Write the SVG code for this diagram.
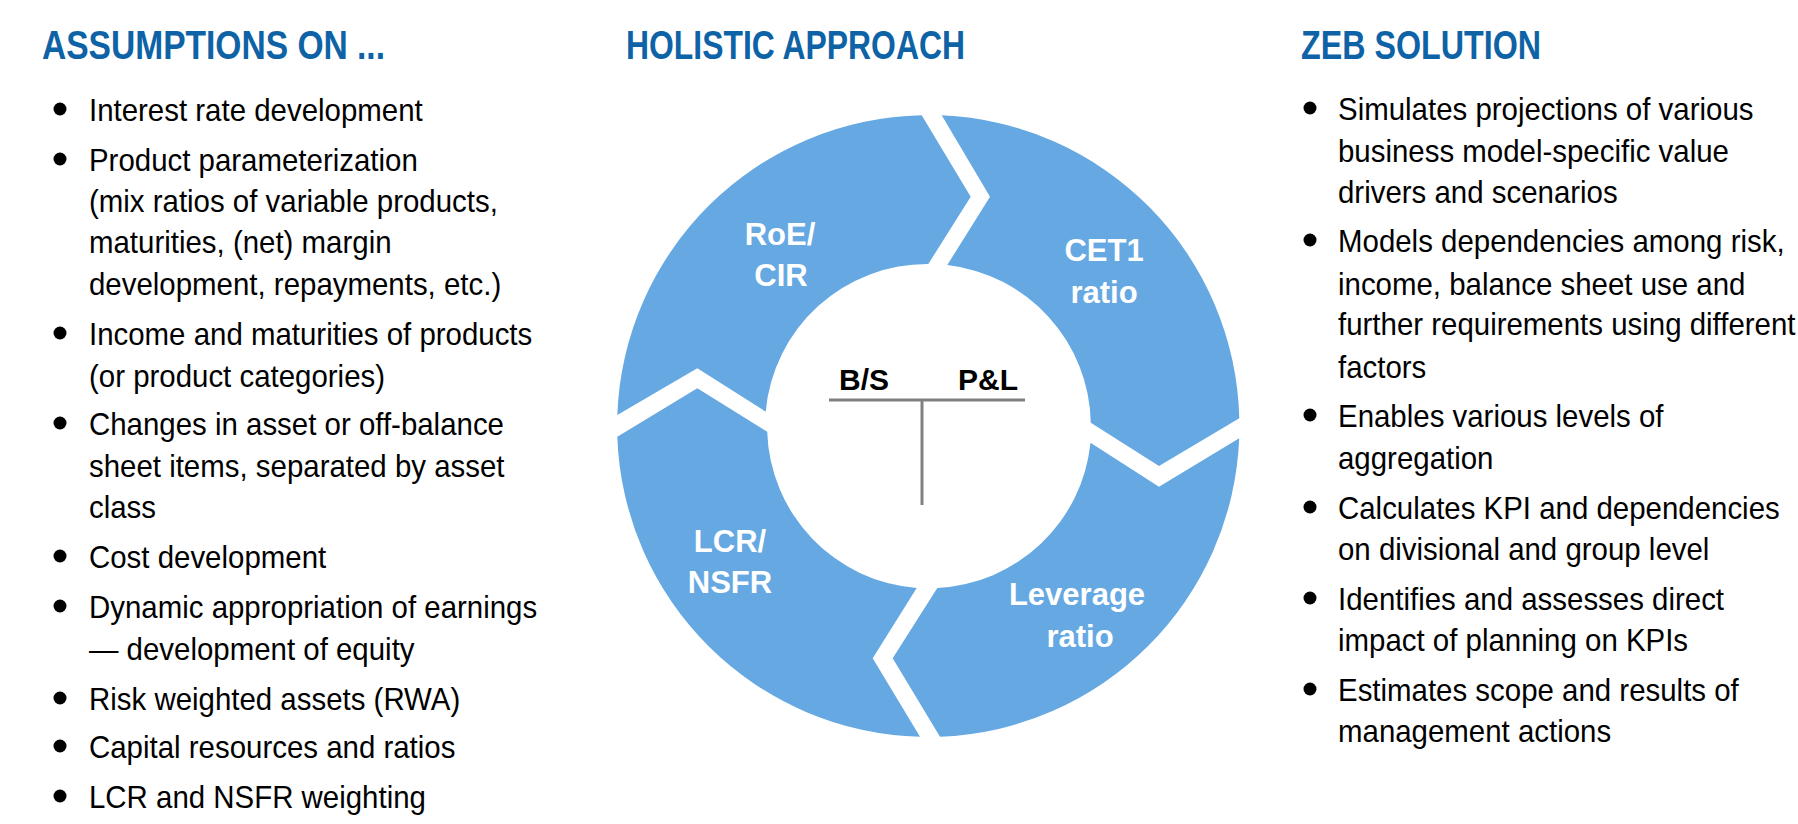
<svg xmlns="http://www.w3.org/2000/svg" width="1798" height="824" viewBox="0 0 1798 824">
  <style>
    .title { font-family: "Liberation Sans", Arial, sans-serif; font-size: 41px; font-weight: bold; fill: #0e62a6; }
    .body { font-family: "Liberation Sans", Arial, sans-serif; font-size: 32px; fill: #000000; }
    .seg { fill: #66a8e2; }
    .lbl { font-family: "Liberation Sans", Arial, sans-serif; font-size: 31px; font-weight: bold; fill: #ffffff; text-anchor: middle; }
    .tc { font-family: "Liberation Sans", Arial, sans-serif; font-size: 30px; font-weight: bold; fill: #000000; }
    .tline { stroke: #808080; stroke-width: 3; fill: none; }
    .dot { fill: #000000; }
  </style>
  <rect width="1798" height="824" fill="#ffffff"/>

  <!-- Titles -->
  <g id="title-assumptions">
    <text class="title" x="42" y="59" textLength="343" lengthAdjust="spacingAndGlyphs">ASSUMPTIONS ON ...</text>
  </g>
  <g id="title-holistic">
    <text class="title" x="626" y="59" textLength="339" lengthAdjust="spacingAndGlyphs">HOLISTIC APPROACH</text>
  </g>
  <g id="title-zeb">
    <text class="title" x="1301" y="59" textLength="240" lengthAdjust="spacingAndGlyphs">ZEB SOLUTION</text>
  </g>

  <!-- Left column -->
  <g id="assumptions-list">
    <g class="dots">
      <circle class="dot" cx="60" cy="109" r="6.5"/>
      <circle class="dot" cx="60" cy="159" r="6.5"/>
      <circle class="dot" cx="60" cy="333" r="6.5"/>
      <circle class="dot" cx="60" cy="423" r="6.5"/>
      <circle class="dot" cx="60" cy="556" r="6.5"/>
      <circle class="dot" cx="60" cy="606" r="6.5"/>
      <circle class="dot" cx="60" cy="698" r="6.5"/>
      <circle class="dot" cx="60" cy="746" r="6.5"/>
      <circle class="dot" cx="60" cy="796" r="6.5"/>
    </g>
    <g transform="matrix(0.92 0 0 1 7.12 0)">
      <text class="body" x="89" y="121">Interest rate development</text>
      <text class="body" x="89" y="171">Product parameterization</text>
      <text class="body" x="89" y="212">(mix ratios of variable products,</text>
      <text class="body" x="89" y="253">maturities, (net) margin</text>
      <text class="body" x="89" y="295">development, repayments, etc.)</text>
      <text class="body" x="89" y="345">Income and maturities of products</text>
      <text class="body" x="89" y="387">(or product categories)</text>
      <text class="body" x="89" y="435">Changes in asset or off-balance</text>
      <text class="body" x="89" y="477">sheet items, separated by asset</text>
      <text class="body" x="89" y="518">class</text>
      <text class="body" x="89" y="568">Cost development</text>
      <text class="body" x="89" y="618">Dynamic appropriation of earnings</text>
      <text class="body" x="89" y="660">— development of equity</text>
      <text class="body" x="89" y="710">Risk weighted assets (RWA)</text>
      <text class="body" x="89" y="758">Capital resources and ratios</text>
      <text class="body" x="89" y="808">LCR and NSFR weighting</text>
    </g>
  </g>

  <!-- Ring segments -->
  <g id="seg-roe-cir">
    <path class="seg" d="M617.3,415 A311,311 0 0,1 921.7,115.3 L970.7,196.7 L928.3,264 A162,162 0 0,0 765.7,411.7 L697.3,368.3 Z"/>
    <text class="lbl" x="780" y="245">RoE/</text>
    <text class="lbl" x="781" y="286">CIR</text>
  </g>
  <g id="seg-cet1">
    <path class="seg" d="M941.7,115.3 A311,311 0 0,1 1239.3,418.3 L1159,466 L1090.8,422.7 A162,162 0 0,0 947.3,265 L990,196.7 Z"/>
    <text class="lbl" x="1104" y="261">CET1</text>
    <text class="lbl" x="1104" y="303">ratio</text>
  </g>
  <g id="seg-leverage">
    <path class="seg" d="M1239.2,438.3 A311,311 0 0,1 940,736.7 L892.7,658.3 L937.3,588 A162,162 0 0,0 1090.5,442.7 L1159,486.7 Z"/>
    <text class="lbl" x="1077" y="605">Leverage</text>
    <text class="lbl" x="1080" y="647">ratio</text>
  </g>
  <g id="seg-lcr-nsfr">
    <path class="seg" d="M920,736.8 A311,311 0 0,1 617.3,436.7 L697.3,388.3 L767.2,431.7 A162,162 0 0,0 916.7,588 L872.7,658.3 Z"/>
    <text class="lbl" x="730" y="552">LCR/</text>
    <text class="lbl" x="730" y="593">NSFR</text>
  </g>

  <!-- Centre T-account -->
  <g id="t-account">
    <line class="tline" x1="829" y1="400" x2="1025" y2="400"/>
    <line class="tline" x1="922" y1="400" x2="922" y2="505"/>
    <text class="tc" x="839" y="390">B/S</text>
    <text class="tc" x="958" y="390">P&amp;L</text>
  </g>

  <g id="connectors"></g>

  <!-- Right column -->
  <g id="zeb-list">
    <g class="dots">
      <circle class="dot" cx="1310" cy="108" r="6.5"/>
      <circle class="dot" cx="1310" cy="240" r="6.5"/>
      <circle class="dot" cx="1310" cy="415" r="6.5"/>
      <circle class="dot" cx="1310" cy="507" r="6.5"/>
      <circle class="dot" cx="1310" cy="598" r="6.5"/>
      <circle class="dot" cx="1310" cy="689" r="6.5"/>
    </g>
    <g transform="matrix(0.92 0 0 1 107.04 0)">
      <text class="body" x="1338" y="120">Simulates projections of various</text>
      <text class="body" x="1338" y="162">business model-specific value</text>
      <text class="body" x="1338" y="203">drivers and scenarios</text>
      <text class="body" x="1338" y="252">Models dependencies among risk,</text>
      <text class="body" x="1338" y="295">income, balance sheet use and</text>
      <text class="body" x="1338" y="335">further requirements using different</text>
      <text class="body" x="1338" y="378">factors</text>
      <text class="body" x="1338" y="427">Enables various levels of</text>
      <text class="body" x="1338" y="469">aggregation</text>
      <text class="body" x="1338" y="519">Calculates KPI and dependencies</text>
      <text class="body" x="1338" y="560">on divisional and group level</text>
      <text class="body" x="1338" y="610">Identifies and assesses direct</text>
      <text class="body" x="1338" y="651">impact of planning on KPIs</text>
      <text class="body" x="1338" y="701">Estimates scope and results of</text>
      <text class="body" x="1338" y="742">management actions</text>
    </g>
  </g>
</svg>
